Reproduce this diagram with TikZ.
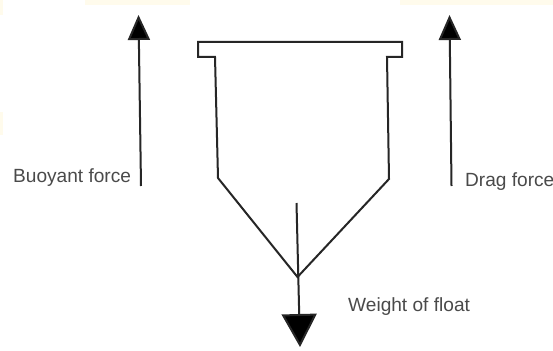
\documentclass[tikz,border=0pt]{standalone}
\usepackage{fontspec}
\setmainfont{Liberation Sans}
\usetikzlibrary{arrows.meta}
\definecolor{labelgray}{HTML}{4A4A4A}
\definecolor{edgeline}{HTML}{262626}
\definecolor{paper}{HTML}{FFFBEC}
\tikzset{
  upforce/.style={line width=2pt,draw=edgeline,-{Triangle[length=25pt,width=22pt,fill=black]}},
  downforce/.style={line width=2pt,draw=edgeline,-{Triangle[length=33pt,width=35pt,fill=black]}},
  floatbody/.style={line width=2pt,draw=edgeline,line join=miter},
  forcelabel/.style={text=labelgray,font=\fontsize{19.1pt}{21pt}\selectfont,anchor=base west,inner sep=0pt},
  stain/.style={fill=paper,draw=none}
}
\begin{document}
\begin{tikzpicture}[x=1pt,y=-1pt]
\useasboundingbox (0,0) rectangle (553,350);
\fill[white] (0,0) rectangle (553,350);
% faint paper tint along the top and left edges
\fill[stain] (85,0) rectangle (190,5);
\fill[stain] (400,0) rectangle (553,5);
\fill[stain] (0,0) rectangle (3,15);
\fill[stain] (0,112) rectangle (3,135);
% float outline
\coordinate (tl) at (198,42);
\coordinate (tr) at (402,42);
\coordinate (fr) at (402,57);
\coordinate (nr) at (387,57);
\coordinate (sr) at (389,179);
\coordinate (apex) at (297.5,277);
\coordinate (sl) at (218,178);
\coordinate (nl) at (215,57);
\coordinate (fl) at (198,57);
\draw[floatbody] (tl) -- (tr) -- (fr) -- (nr) -- (sr) -- (apex) -- (sl) -- (nl) -- (fl) -- cycle;
% forces
\coordinate (bstart) at (141,186);
\coordinate (bend) at (138.5,15);
\coordinate (dstart) at (451.5,186);
\coordinate (dend) at (449.5,15);
\coordinate (wstart) at (296.5,203);
\coordinate (wend) at (300,347);
\draw[upforce] (bstart) -- (bend);
\draw[upforce] (dstart) -- (dend);
\draw[downforce] (wstart) -- (wend);
% labels
\node[forcelabel] (buoyant) at (13,182.5) {Buoyant force};
\node[forcelabel] (drag) at (465,186) {Drag force};
\node[forcelabel] (weight) at (348,311.5) {Weight of float};
\end{tikzpicture}
\end{document}
